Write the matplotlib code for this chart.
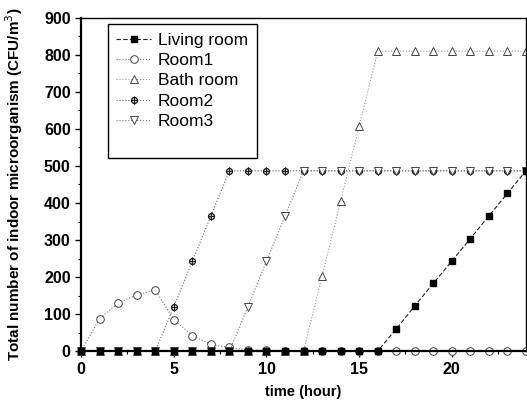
import matplotlib as mpl
mpl.use('Agg')
import numpy as np
import matplotlib.pyplot as plt
from matplotlib.path import Path
from matplotlib.lines import Line2D

plt.rcParams['font.family'] = ['Liberation Sans', 'DejaVu Sans']

hours = list(range(0, 25))

living_room = [0]*17 + [60, 122, 183, 243, 304, 365, 426, 487]
room1 = [0, 88, 130, 152, 165, 85, 42, 18, 10, 3, 2, 1] + [0]*13
bath_room = [0]*13 + [203, 405, 607, 810] + [810]*8
room2 = [0]*5 + [120, 243, 365, 487] + [487]*16
room3 = [0]*9 + [120, 243, 365, 487] + [487]*12

# circle with a cross through it
circ_cross = Path.make_compound_path(
    Path.unit_circle(),
    Path([[0, -1.4], [0, 1.4]], [Path.MOVETO, Path.LINETO]),
    Path([[-1, 0], [1, 0]], [Path.MOVETO, Path.LINETO]))

fig = plt.figure(figsize=(5.27, 4.05), dpi=100)
ax = fig.add_axes([0.154, 0.133, 0.844, 0.823])

ax.plot(hours, room1, linestyle=':', color='#777777', lw=0.8, marker='o', ms=5.5,
        mfc='white', mec='#444444', mew=0.7, label='Room1', clip_on=False)
ax.plot(hours, bath_room, linestyle=':', color='#999999', lw=0.8, marker='^', ms=5.5,
        mfc='white', mec='#444444', mew=0.7, label='Bath room', clip_on=False)
ax.plot(hours, room2, linestyle=':', color='#666666', lw=0.8, marker=circ_cross, ms=6,
        mfc='none', mec='#222222', mew=0.9, label='Room2', clip_on=False)
ax.plot(hours, room3, linestyle=':', color='#777777', lw=0.8, marker='v', ms=5.5,
        mfc='white', mec='#444444', mew=0.7, label='Room3', clip_on=False)
ax.plot(hours, living_room, linestyle=(0, (4, 2)), color='#222222', lw=0.8, marker='s', ms=5,
        mfc='black', mec='black', label='Living room', clip_on=False)

ax.set_xlim(0, 24)
ax.set_ylim(0, 900)
ax.set_xticks([0, 5, 10, 15, 20])
ax.set_xticks(np.arange(0, 25, 2.5), minor=True)
ax.set_yticks(np.arange(0, 901, 100))
ax.set_yticks(np.arange(0, 901, 50), minor=True)
ax.tick_params(direction='out', length=4, width=1, labelsize=11.5)
ax.tick_params(which='minor', direction='out', length=2, width=0.8)
for lbl in ax.get_xticklabels() + ax.get_yticklabels():
    lbl.set_fontweight('bold')

ax.spines['left'].set_linewidth(1.6)
ax.spines['bottom'].set_linewidth(1.6)
ax.spines['top'].set_linewidth(1.0)
ax.spines['right'].set_linewidth(1.0)

ax.set_xlabel('time (hour)', fontweight='bold', fontsize=10.5, labelpad=6)
ax.set_ylabel('Total number of indoor microorganism (CFU/m$^3$)', fontweight='bold',
              fontsize=11, labelpad=14)

handles, labels = ax.get_legend_handles_labels()
order = [4, 0, 1, 2, 3]
blank = Line2D([], [], linestyle='none')
leg = ax.legend([handles[i] for i in order] + [blank], [labels[i] for i in order] + [''],
                loc='upper left', bbox_to_anchor=(0.04, 1.008), fontsize=12.5,
                fancybox=False, edgecolor='black', framealpha=1,
                handlelength=2.0, handletextpad=0.4, borderpad=0.5, labelspacing=0.3)
leg.get_frame().set_linewidth(1.0)

plt.savefig('out.png', dpi=100)
plt.close()
